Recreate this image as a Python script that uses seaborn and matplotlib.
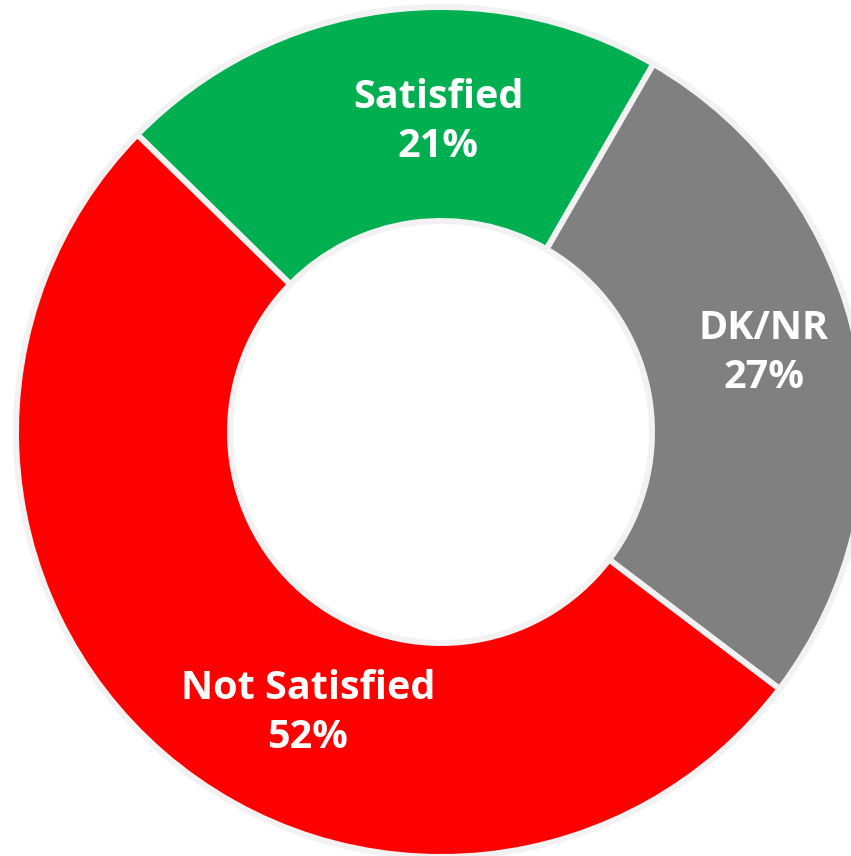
import matplotlib
matplotlib.use("Agg")
import matplotlib.pyplot as plt
import seaborn as sns
import numpy as np

categories = ["Satisfied", "DK/NR", "Not Satisfied"]
values = [21, 27, 52]
colors = ["#00B050", "#808080", "#FF0000"]

sns.set_style("white")
plt.rcParams["font.family"] = ["Open Sans", "DejaVu Sans"]

W, H = 851, 856
fig = plt.figure(figsize=(W / 100, H / 100), dpi=100)
ax = fig.add_axes([0, 0, 1, 1])

cx, cy = 441, H - 432
R = 425
ring = 214

wedges, _ = ax.pie(values, colors=colors, startangle=135.6, counterclock=False,
                   center=(cx, cy), radius=R, frame=True,
                   wedgeprops=dict(width=ring, edgecolor="#F2F2F2", linewidth=4.3))
ax.set_xlim(0, W)
ax.set_ylim(0, H)
ax.set_aspect("equal")
ax.axis("off")

label_pos = {"Satisfied": (438, H - 122), "DK/NR": (764, H - 353), "Not Satisfied": (308, H - 713)}
for cat, v in zip(categories, values):
    x, y = label_pos[cat]
    ax.text(x, y, f"{cat}\n{v}%", ha="center", va="center", color="white",
            fontsize=28.5, fontweight="bold", linespacing=1.36)

fig.savefig("out.png", dpi=100)
